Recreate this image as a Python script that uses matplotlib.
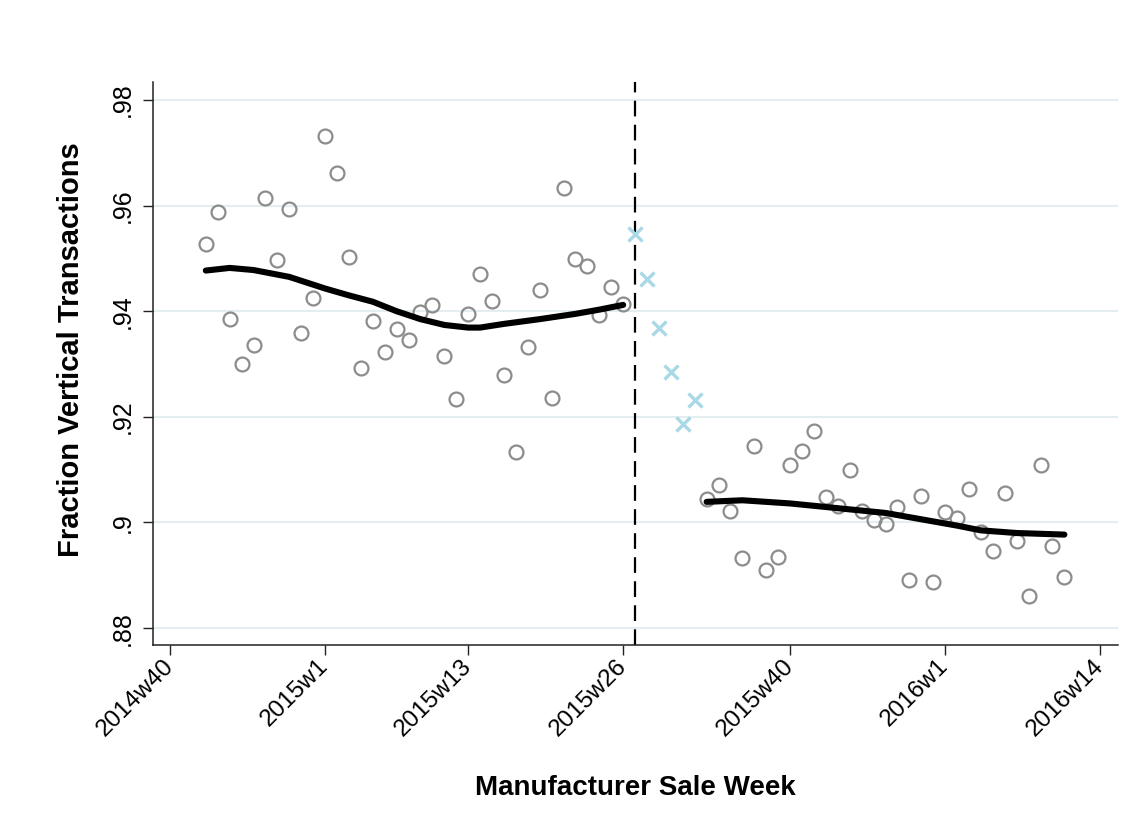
import numpy as np
import matplotlib
matplotlib.use("Agg")
import matplotlib.pyplot as plt

plt.rcParams["font.family"] = ["Liberation Sans", "DejaVu Sans"]
plt.rcParams["lines.scale_dashes"] = False

# Week index counted from 2014w40
tick_weeks = [0, 13, 25, 38, 52, 65, 78]
tick_labels = ["2014w40", "2015w1", "2015w13", "2015w26", "2015w40", "2016w1", "2016w14"]

y_ticks = [0.88, 0.90, 0.92, 0.94, 0.96, 0.98]
y_tick_labels = [".88", ".9", ".92", ".94", ".96", ".98"]

pre_weeks = np.arange(3, 39)
pre_share = [0.9528, 0.9588, 0.9386, 0.9300, 0.9336, 0.9614, 0.9497, 0.9594,
             0.9358, 0.9425, 0.9731, 0.9661, 0.9503, 0.9292, 0.9381, 0.9322,
             0.9367, 0.9345, 0.9399, 0.9412, 0.9316, 0.9233, 0.9395, 0.9470,
             0.9420, 0.9280, 0.9134, 0.9333, 0.9441, 0.9236, 0.9633, 0.9499,
             0.9486, 0.9393, 0.9445, 0.9413]

transition_weeks = np.arange(39, 45)
transition_share = [0.9547, 0.9461, 0.9369, 0.9284, 0.9186, 0.9231]

post_weeks = np.arange(45, 76)
post_share = [0.9044, 0.9070, 0.9022, 0.8933, 0.9144, 0.8910, 0.8935, 0.9108,
              0.9136, 0.9174, 0.9048, 0.9031, 0.9099, 0.9022, 0.9005, 0.8998,
              0.9030, 0.8891, 0.9050, 0.8888, 0.9019, 0.9009, 0.9063, 0.8982,
              0.8946, 0.9055, 0.8965, 0.8861, 0.9108, 0.8955, 0.8897]

# Smoothed trend before and after the change
pre_fit_weeks = [3, 5, 7, 10, 13, 15, 17, 19, 21, 23, 25, 26, 28, 31, 34, 36, 38]
pre_fit = [0.9477, 0.9482, 0.9478, 0.9465, 0.9443, 0.9430, 0.9418, 0.9400,
           0.9385, 0.9374, 0.9369, 0.9369, 0.9376, 0.9385, 0.9395, 0.9403, 0.9412]

post_fit_weeks = [45, 48, 52, 56, 60, 63, 66, 68, 71, 75]
post_fit = [0.9039, 0.9042, 0.9036, 0.9027, 0.9018, 0.9006, 0.8994, 0.8985,
            0.8980, 0.8977]

event_week = 39

fig = plt.figure(figsize=(11.46, 8.32), dpi=100)
ax = fig.add_axes([0.1335, 0.2248, 0.8421, 0.6766])

grid_color = "#e4edf0"
for yv in y_ticks:
    ax.axhline(yv, color=grid_color, lw=1.5, zorder=0)

circle_kw = dict(ls="none", marker="o", ms=10, mfc="none", mec="#8c8c8c", mew=1.6, zorder=3)
ax.plot(pre_weeks, pre_share, **circle_kw)
ax.plot(post_weeks, post_share, **circle_kw)
ax.plot(transition_weeks, transition_share, ls="none", marker="x", ms=10,
        mec="#a9d8e6", mew=2.4, zorder=3)

line_kw = dict(color="black", lw=4.4, solid_capstyle="round",
               solid_joinstyle="round", zorder=4)
ax.plot(pre_fit_weeks, pre_fit, **line_kw)
ax.plot(post_fit_weeks, post_fit, **line_kw)

ax.axvline(event_week, color="black", lw=1.6, dashes=(11.3, 6.0), zorder=2)

ax.set_xlim(-1.43, 79.5)
ax.set_ylim(0.8768, 0.9834)

ax.set_xticks(tick_weeks)
ax.set_xticklabels(tick_labels, rotation=45, ha="right", va="center",
                   rotation_mode="anchor", fontsize=17.5)
ax.set_yticks(y_ticks)
ax.set_yticklabels(y_tick_labels, rotation=90, va="center", fontsize=18)

ax.tick_params(axis="both", direction="out", length=7, width=1.0, color="#222222")
ax.tick_params(axis="x", pad=6)
ax.tick_params(axis="y", pad=6)

for side in ("top", "right"):
    ax.spines[side].set_visible(False)
for side in ("left", "bottom"):
    ax.spines[side].set_color("#222222")
    ax.spines[side].set_linewidth(1.1)

ax.set_xlabel("Manufacturer Sale Week", fontsize=20, fontweight="bold", labelpad=25)
ax.set_ylabel("Fraction Vertical Transactions", fontsize=21, fontweight="bold")
ax.yaxis.set_label_coords(-0.070, 0.524)

fig.savefig("out.png", dpi=100, facecolor="white")
